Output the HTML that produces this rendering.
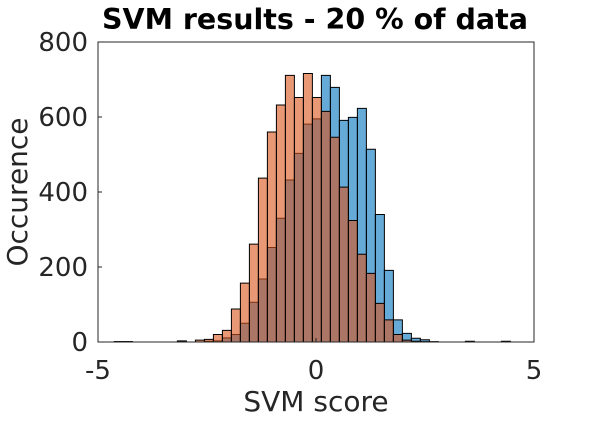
<!DOCTYPE html>
<html><head><meta charset="utf-8"><style>
body{margin:0;background:#fff;}
svg text{font-family:"DejaVu Sans","Liberation Sans",sans-serif;fill:#262626;}
</style></head><body>
<svg id="chart" width="590" height="418" viewBox="0 0 590 418" xmlns="http://www.w3.org/2000/svg">
<rect width="590" height="418" fill="#fff"/>
<text x="315" y="29" text-anchor="middle" font-size="28.5" font-weight="bold" style="fill:#000">SVM results - 20 % of data</text>
<g id="bars"></g>
<rect x="98" y="42" width="436" height="300" fill="none" stroke="#262626" stroke-width="1"/>
<g id="axes"></g>
<text x="316" y="411" text-anchor="middle" font-size="28">SVM score</text>
<text transform="translate(27,192) rotate(-90)" text-anchor="middle" font-size="28">Occurence</text>
</svg>
<script>
const binStart = -4.83;
const binWidth = 0.2064;
const blueCounts = [0,1,1,0,0,0,0,0,3,0,0,2,3,11,20,50,106,168,252,330,432,503,581,595,711,679,591,599,623,514,340,191,59,23,10,6,1,0,0,0,2,0,0,0,2,0,0];
const orangeCounts = [0,1,1,0,0,0,0,0,1,0,5,7,20,31,88,157,261,437,560,632,711,652,716,652,615,546,413,324,234,183,103,59,20,5,2,1,0,0,0,0,0,0,0,0,0,0,0];
const xTicks = [-5,0,5];
const yTicks = [0,200,400,600,800];
const NS="http://www.w3.org/2000/svg";
const X0=98,X1=534,Y0=342,Y1=42;
function xs(v){return X0+(v+5)/10*(X1-X0);}
function ys(v){return Y0-v/800*(Y0-Y1);}
const g=document.getElementById('bars');
function drawSeries(arr,color,name){
  arr.forEach((c,i)=>{
    if(c<=0)return;
    const r=document.createElementNS(NS,'rect');
    const a=xs(binStart+i*binWidth), b=xs(binStart+(i+1)*binWidth);
    r.setAttribute('x',a);r.setAttribute('width',b-a);
    r.setAttribute('y',ys(c));r.setAttribute('height',Y0-ys(c));
    r.setAttribute('fill',color);r.setAttribute('fill-opacity','0.6');
    r.setAttribute('stroke','#000');r.setAttribute('stroke-width','1');
    
    
    g.appendChild(r);
  });
}
drawSeries(blueCounts,'rgb(0,114,189)','blue');
drawSeries(orangeCounts,'rgb(217,83,25)','orange');
const ax=document.getElementById('axes');
xTicks.forEach(t=>{
  const l=document.createElementNS(NS,'line');
  l.setAttribute('x1',xs(t));l.setAttribute('x2',xs(t));l.setAttribute('y1',Y0);l.setAttribute('y2',Y0-4);l.setAttribute('stroke','#262626');
  
  
  ax.appendChild(l);
  const tx=document.createElementNS(NS,'text');
  tx.setAttribute('x',xs(t));tx.setAttribute('y',379);tx.setAttribute('text-anchor','middle');tx.setAttribute('font-size','26');
  tx.textContent=t;
  
  
  ax.appendChild(tx);
});
yTicks.forEach(t=>{
  const l=document.createElementNS(NS,'line');
  l.setAttribute('x1',X0);l.setAttribute('x2',X0+4);l.setAttribute('y1',ys(t));l.setAttribute('y2',ys(t));l.setAttribute('stroke','#262626');
  
  
  ax.appendChild(l);
  const tx=document.createElementNS(NS,'text');
  tx.setAttribute('x',88);tx.setAttribute('y',ys(t)+9);tx.setAttribute('text-anchor','end');tx.setAttribute('font-size','26');
  tx.textContent=t;
  
  
  ax.appendChild(tx);
});
</script>
</body></html>
